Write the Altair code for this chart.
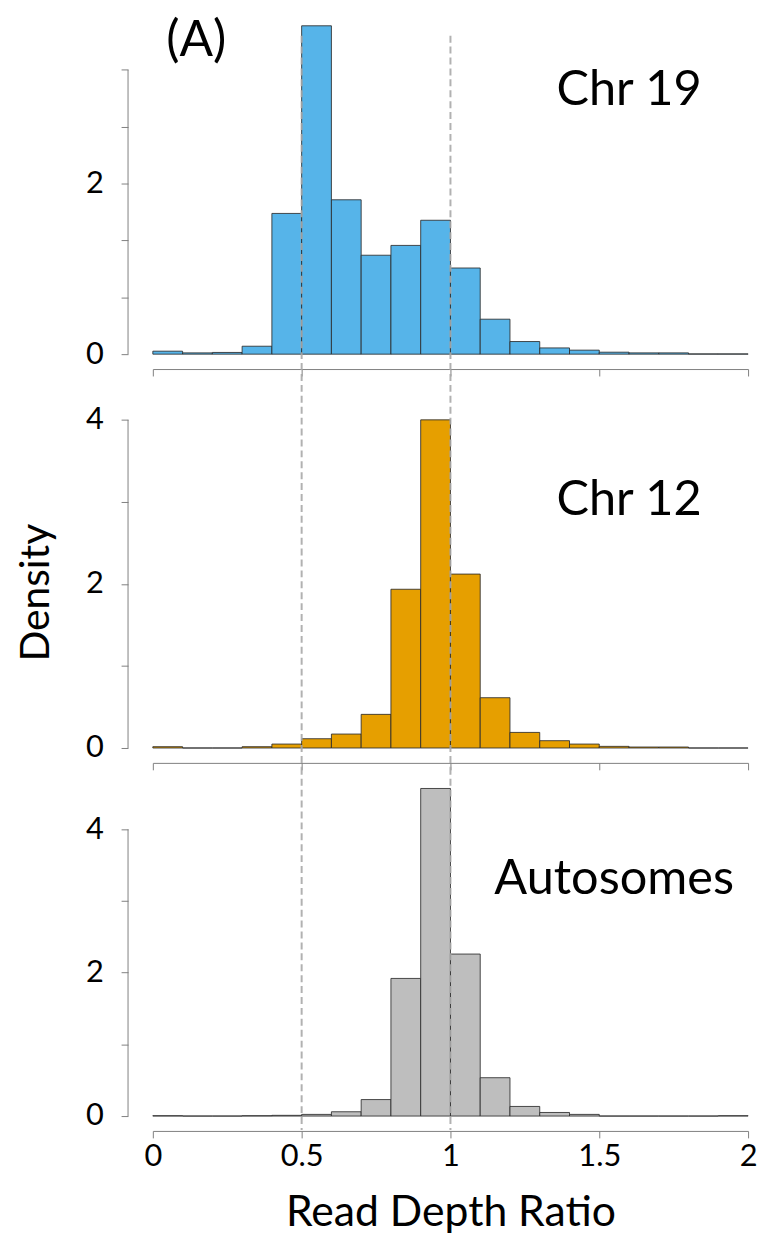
import altair as alt
import pandas as pd

# ---- data ----
bin_left = [0.0, 0.1, 0.2, 0.3, 0.4, 0.5, 0.6, 0.7, 0.8, 0.9,
            1.0, 1.1, 1.2, 1.3, 1.4, 1.5, 1.6, 1.7, 1.8, 1.9]
bin_right = [0.1, 0.2, 0.3, 0.4, 0.5, 0.6, 0.7, 0.8, 0.9, 1.0,
             1.1, 1.2, 1.3, 1.4, 1.5, 1.6, 1.7, 1.8, 1.9, 2.0]
chr19 = [0.035, 0.015, 0.02, 0.093, 1.65, 3.85, 1.81, 1.16, 1.275, 1.57,
         1.01, 0.41, 0.148, 0.073, 0.047, 0.023, 0.015, 0.015, 0.003, 0.003]
chr12 = [0.016, 0.0, 0.0, 0.016, 0.048, 0.113, 0.17, 0.41, 1.935, 4.0,
         2.12, 0.613, 0.19, 0.089, 0.048, 0.02, 0.012, 0.012, 0.0, 0.0]
autosomes = [0.005, 0.0, 0.0, 0.005, 0.01, 0.023, 0.06, 0.23, 1.92, 4.57,
             2.26, 0.535, 0.134, 0.05, 0.023, 0.0, 0.0, 0.0, 0.0, 0.005]

x_ticks = [0, 0.5, 1, 1.5, 2]
ref_lines = [0.5, 1.0]
panel_labels = ["Chr 19", "Chr 12", "Autosomes"]
label_x = [1.6, 1.6, 1.55]
label_y = [3.09, 3.02, 3.31]
y_ticks = [[0, 2 / 3, 4 / 3, 2, 8 / 3, 10 / 3], [0, 1, 2, 3, 4], [0, 1, 2, 3, 4]]
y_labelled = [[0, 2], [0, 2, 4], [0, 2, 4]]
y_max = [3.85, 4.317, 4.581]
heights = [331, 357, 331]
colors = ["#56B4E9", "#E69F00", "#BEBEBE"]
series = [chr19, chr12, autosomes]

FONT = "Lato"
W = 600
GREY = "#808080"


def panel(i):
    df = pd.DataFrame({"x0": bin_left, "x1": bin_right, "density": series[i]})
    last = i == 2
    xscale = alt.Scale(domain=[0, 2], nice=False, zero=False)
    yscale = alt.Scale(domain=[0, y_max[i]], nice=False)

    xaxis_kw = dict(values=x_ticks, format="~g", offset=15, tickSize=7,
                    domainColor=GREY, tickColor=GREY, grid=False,
                    labels=last, labelFontSize=31, labelColor="black",
                    labelPadding=4, labelFlush=False, titleFontSize=43,
                    titleFontWeight="normal", titleColor="black", titlePadding=20)
    xaxis = alt.Axis(title="Read Depth Ratio", **xaxis_kw) if last else alt.Axis(title=None, **xaxis_kw)

    labelled = " || ".join(f"abs(datum.value - {v}) < 0.01" for v in y_labelled[i])
    yaxis_kw = dict(values=y_ticks[i], labelExpr=f"({labelled}) ? format(datum.value, '.0f') : ''",
                    domain=False, offset=25, tickSize=7, tickColor=GREY, grid=False,
                    labelFontSize=31, labelColor="black", labelPadding=18,
                    labelOverlap=False, labelFlush=False,
                    titleFontSize=41, titleFontWeight="normal", titleColor="black",
                    titlePadding=28)
    if i == 1:
        yaxis = alt.Axis(title="Density", titleY=200, **yaxis_kw)
    else:
        yaxis = alt.Axis(title=None, **yaxis_kw)

    bars = alt.Chart(df).mark_rect(stroke="#2b2b2b", strokeWidth=1, strokeOpacity=0.85,
                                   color=colors[i]).encode(
        x=alt.X("x0:Q", scale=xscale, axis=xaxis),
        x2="x1:Q",
        y=alt.Y("density:Q", scale=yscale, axis=yaxis),
        y2=alt.datum(0),
    )

    # y axis line (from 0 to the last tick only)
    ax_df = pd.DataFrame({"lo": [0], "hi": [y_ticks[i][-1]]})
    yline = alt.Chart(ax_df).mark_rule(color=GREY, strokeWidth=1).encode(
        x=alt.value(-25), y="lo:Q", y2="hi:Q")

    # dashed reference lines running through the gaps between panels
    tops = [10, -20, -20]
    bottoms = [heights[0] + 20, heights[1] + 20, heights[2] + 14]
    rl = pd.DataFrame({"r": ref_lines})
    rules = alt.Chart(rl).mark_rule(color="#a8a8a8", strokeDash=[7, 4], strokeWidth=2,
                                    opacity=0.9).encode(
        x="r:Q", y=alt.value(tops[i]), y2=alt.value(bottoms[i]))

    tdf = pd.DataFrame({"tx": [label_x[i]], "ty": [label_y[i]], "t": [panel_labels[i]]})
    text = alt.Chart(tdf).mark_text(font=FONT, fontSize=49, align="center",
                                    baseline="middle", color="black").encode(
        x="tx:Q", y="ty:Q", text="t:N")

    layers = [bars, rules, yline, text]
    if i == 0:
        adf = pd.DataFrame({"tx": [0.146], "ty": [3.67], "t": ["(A)"]})
        layers.append(alt.Chart(adf).mark_text(font=FONT, fontSize=50, align="center",
                                               baseline="middle", color="black").encode(
            x="tx:Q", y="ty:Q", text="t:N"))
    return alt.layer(*layers).properties(width=W, height=heights[i])


chart = alt.vconcat(panel(0), panel(1), panel(2), spacing=40, bounds="flush").properties(
    padding={"left": 8, "top": 3, "right": 0, "bottom": 0}
).configure_view(stroke=None).configure_axis(labelFont=FONT, titleFont=FONT)

chart.save("out.html", embed_options={"renderer": "svg", "actions": False})
